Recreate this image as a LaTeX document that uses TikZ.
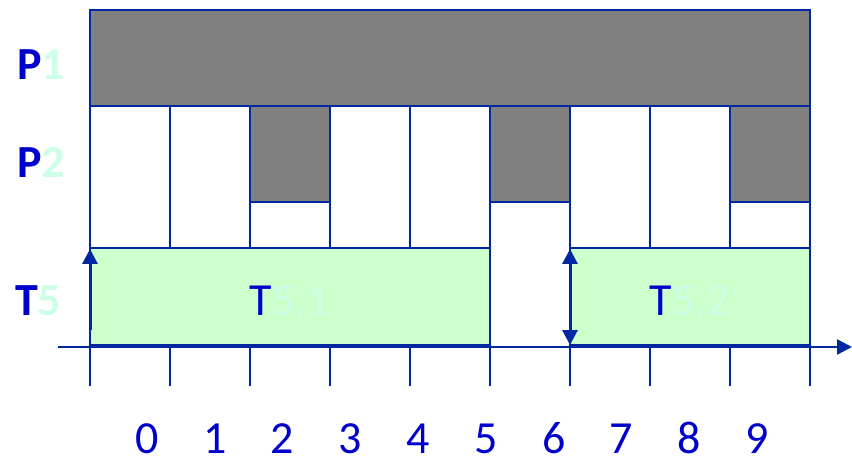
\documentclass[tikz,border=0pt]{standalone}
\usepackage{fontspec}
\setmainfont{Carlito}
\usetikzlibrary{arrows.meta}
\definecolor{gridblue}{RGB}{0,40,160}
\definecolor{txtblue}{RGB}{0,0,204}
\definecolor{mint}{RGB}{204,255,230}
\definecolor{busy}{RGB}{128,128,128}
\definecolor{job}{RGB}{204,255,204}
\begin{document}
\begin{tikzpicture}[x=1pt,y=-1pt,
  gridline/.style={draw=gridblue,line width=1.6pt},
  busybox/.style={fill=busy,draw=gridblue,line width=1.8pt},
  jobbox/.style={fill=job,draw=gridblue,line width=1.6pt},
  jobbase/.style={draw=gridblue,line width=4.5pt},
  axisline/.style={draw=gridblue,line width=2.5pt,-{Triangle[length=15pt,width=15pt]}},
  relarrow/.style={draw=gridblue,line width=3pt},
  rowlbl/.style={font=\fontsize{46}{46}\selectfont\bfseries,text=txtblue,anchor=base west,inner sep=0pt},
  joblbl/.style={font=\fontsize{46}{46}\selectfont,text=txtblue,anchor=base west,inner sep=0pt},
  ticklbl/.style={font=\fontsize{46}{46}\selectfont,text=txtblue,anchor=base,inner sep=0pt}]
\useasboundingbox (0,0) rectangle (852,457);
% vertical grid lines and ticks
\foreach \i in {0,...,9} {
  \draw[gridline] ({90+80*\i},106) -- ({90+80*\i},386);
}
% P2 row bottom line (except the gap between 5 and 6)
\draw[gridline] (90,248) -- (490,248);
\draw[gridline] (570,248) -- (810,248);
% job boxes
\draw[jobbox] (90,248) rectangle (490,346);
\draw[jobbox] (570,248) rectangle (810,346);
% axis
\coordinate (axstart) at (58,347);
\coordinate (axend) at (852,347);
\draw[axisline] (axstart) -- (axend);
\draw[jobbase] (89,346) -- (491,346);
\draw[jobbase] (569,346) -- (811,346);
% P1 busy
\draw[busybox] (90,10) rectangle (810,106);
% P2 busy slots
\draw[busybox] (250,106) rectangle (330,202);
\draw[busybox] (490,106) rectangle (570,202);
\draw[busybox] (730,106) rectangle (810,202);
% release arrows
\coordinate (r1a) at (90,330);
\coordinate (r1b) at (90,249);
\coordinate (r2a) at (570,345);
\coordinate (r2b) at (570,249);
\draw[relarrow,-{Triangle[length=15pt,width=15pt]}] (r1a) -- (r1b);
\draw[relarrow,{Triangle[length=15pt,width=15pt]}-{Triangle[length=15pt,width=15pt]}] (r2a) -- (r2b);
% labels
\node[rowlbl] (p1) at (17,80) {P\textcolor{mint}{1}};
\node[rowlbl] (p2) at (17,178) {P\textcolor{mint}{2}};
\node[rowlbl] (t5) at (15,316) {T\textcolor{mint}{5}};
\node[joblbl] (t51) at (249,316) {T\textcolor{mint}{5,1}};
\node[joblbl] (t52) at (649,316) {T\textcolor{mint}{5,2}};
\foreach \i in {0,...,9} {
  \node[ticklbl] (n\i) at ({147+67.8*\i},453) {\i};
}
\end{tikzpicture}
\end{document}
